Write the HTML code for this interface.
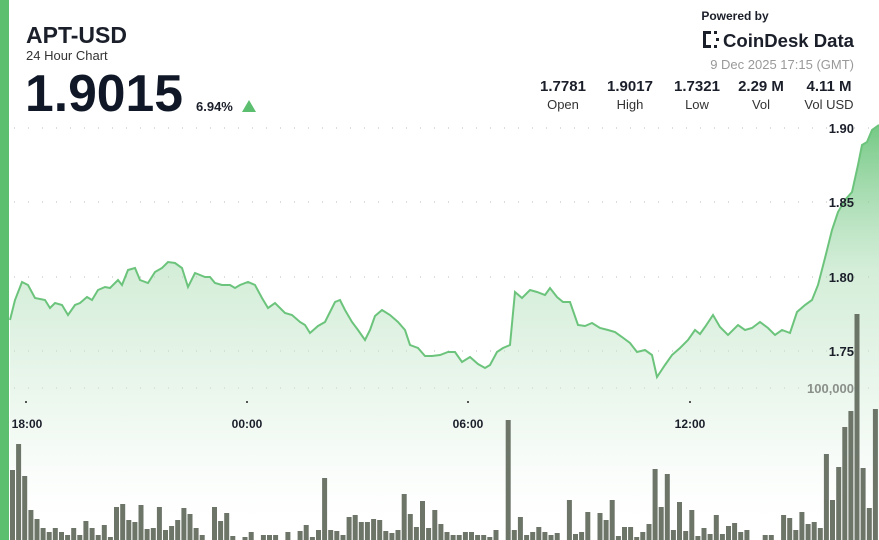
<!DOCTYPE html>
<html><head><meta charset="utf-8"><style>
body{margin:0;width:879px;height:540px;overflow:hidden;background:#fff;font-family:"Liberation Sans",sans-serif}
svg{position:absolute;left:0;top:0}
</style></head><body>
<svg width="879" height="540" viewBox="0 0 879 540" xmlns="http://www.w3.org/2000/svg">
<defs>
<linearGradient id="g" x1="0" y1="0" x2="0" y2="1">
<stop offset="0" stop-color="#5cbf6f" stop-opacity="0.85"/>
<stop offset="0.35" stop-color="#a9dcb2" stop-opacity="0.5"/>
<stop offset="0.75" stop-color="#e3f3e6" stop-opacity="0.45"/>
<stop offset="1" stop-color="#ffffff" stop-opacity="0"/>
</linearGradient>
</defs>
<rect x="0" y="0" width="9" height="540" fill="#5cbf6f"/>
<g id="grid" stroke="#bbb" stroke-width="1" stroke-dasharray="1 13"></g>
<path id="area" fill="url(#g)"/>
<path id="line" fill="none" stroke="#6cc47c" stroke-width="2"/>
<g id="bars" fill="#5d6659" fill-opacity="0.9"></g>
<g font-family="Liberation Sans,sans-serif" font-weight="bold" font-size="13" fill="#1b1f2a" text-anchor="end">
<text x="854" y="133">1.90</text><text x="854" y="207">1.85</text><text x="854" y="282">1.80</text><text x="854" y="356">1.75</text>
<text x="854" y="393" fill="#8a8f8a">100,000</text>
</g>
<g fill="#555"><rect x="25" y="401" width="2" height="2"/><rect x="246" y="401" width="2" height="2"/><rect x="467" y="401" width="2" height="2"/><rect x="689" y="401" width="2" height="2"/></g>
<g font-family="Liberation Sans,sans-serif" font-weight="bold" font-size="12" fill="#1b1f2a" text-anchor="middle">
<text x="27" y="428">18:00</text><text x="247" y="428">00:00</text><text x="468" y="428">06:00</text><text x="690" y="428">12:00</text>
</g>
<text x="26" y="43" font-weight="bold" font-size="23" fill="#1b1f2a">APT-USD</text>
<text x="26" y="60" font-size="13" fill="#333">24 Hour Chart</text>
<text x="25" y="111" font-weight="bold" font-size="52" fill="#101828" textLength="158" lengthAdjust="spacingAndGlyphs">1.9015</text>
<text x="196" y="111" font-weight="bold" font-size="13" fill="#1b1f2a">6.94%</text>
<polygon points="242,112 256,112 249,100" fill="#5cbf6f"/>
<text x="735" y="20" font-weight="bold" font-size="12" fill="#1b1f2a" text-anchor="middle">Powered by</text>
<g fill="#1b1f2a"><rect x="703" y="31" width="3" height="17"/><rect x="703" y="31" width="8" height="3"/><rect x="703" y="45" width="8" height="3"/><rect x="714" y="31" width="3" height="3"/><rect x="716" y="38" width="3" height="3"/><rect x="714" y="45" width="3" height="3"/></g>
<text x="723" y="47" font-weight="bold" font-size="18" fill="#1b1f2a" textLength="131" lengthAdjust="spacingAndGlyphs">CoinDesk Data</text>
<text x="854" y="69" font-size="13" fill="#999" text-anchor="end">9 Dec 2025 17:15 (GMT)</text>
<g font-family="Liberation Sans,sans-serif" text-anchor="middle" fill="#1b1f2a">
<text x="563" y="91" font-weight="bold" font-size="15">1.7781</text><text x="563" y="109" font-size="13" fill="#333">Open</text>
<text x="630" y="91" font-weight="bold" font-size="15">1.9017</text><text x="630" y="109" font-size="13" fill="#333">High</text>
<text x="697" y="91" font-weight="bold" font-size="15">1.7321</text><text x="697" y="109" font-size="13" fill="#333">Low</text>
<text x="761" y="91" font-weight="bold" font-size="15">2.29 M</text><text x="761" y="109" font-size="13" fill="#333">Vol</text>
<text x="829" y="91" font-weight="bold" font-size="15">4.11 M</text><text x="829" y="109" font-size="13" fill="#333">Vol USD</text>
</g>
</svg>
<script>
var ns="http://www.w3.org/2000/svg";
var grid=document.getElementById('grid');
[128,202,277,351,388].forEach(function(y){var l=document.createElementNS(ns,'line');l.setAttribute('x1',14);l.setAttribute('x2',879);l.setAttribute('y1',y);l.setAttribute('y2',y);grid.appendChild(l);});
var p=[[10,320],[15,300],[22,282],[28,285],[35,298],[45,300],[50,308],[55,303],[62,305],[68,315],[75,305],[80,303],[87,297],[92,300],[98,290],[105,287],[110,288],[118,280],[122,285],[128,270],[135,268],[140,280],[148,283],[155,272],[162,268],[168,262],[175,263],[182,268],[188,287],[195,273],[205,277],[210,277],[215,283],[222,285],[230,285],[235,288],[240,285],[248,282],[255,285],[262,298],[268,308],[275,303],[285,313],[292,315],[300,322],[305,325],[310,333],[318,326],[325,322],[330,312],[335,302],[340,300],[345,310],[352,322],[358,330],[365,340],[370,330],[375,316],[382,310],[390,315],[398,322],[405,330],[410,345],[418,348],[425,356],[432,356],[440,355],[448,352],[455,352],[462,362],[470,357],[478,364],[485,368],[490,365],[497,352],[503,348],[510,345],[515,292],[522,298],[530,290],[537,292],[545,295],[550,288],[557,297],[563,302],[570,302],[578,325],[585,326],[592,323],[600,328],[608,330],[615,332],[622,337],[630,343],[637,352],[645,350],[652,355],[657,377],[665,365],[672,355],[680,348],[688,340],[695,330],[700,334],[705,327],[713,315],[720,327],[728,335],[738,325],[745,330],[752,328],[760,322],[768,328],[775,335],[782,330],[790,333],[797,312],[805,305],[812,300],[818,285],[825,258],[832,230],[838,212],[845,200],[852,192],[858,165],[862,145],[867,142],[872,130],[879,125]];
var d=p.map(function(q,i){return (i?'L':'M')+q[0]+','+q[1];}).join('');
document.getElementById('line').setAttribute('d',d);
document.getElementById('area').setAttribute('d',d+'L879,540L10,540Z');
var t=[470,444,476,510,519,528,532,528,532,535,528,535,521,528,535,525,537,507,504,520,522,505,529,528,507,530,526,520,508,514,528,535,540,507,521,513,536,540,537,532,540,535,535,535,540,532,540,531,525,537,530,478,530,531,535,517,515,522,522,519,520,531,533,530,494,514,527,501,528,510,524,532,535,535,532,532,535,535,537,530,540,420,530,517,535,532,527,532,535,533,540,500,534,532,512,540,513,520,500,536,527,527,537,532,524,469,507,474,530,502,531,510,536,528,534,515,534,526,523,532,530,540,540,535,535,540,515,518,530,512,524,522,528,454,500,467,427,411,314,468,508,409];
var bars=document.getElementById('bars');var n=t.length;var w=(879-10)/n;
t.forEach(function(y,i){var r=document.createElementNS(ns,'rect');r.setAttribute('x',(10+i*w).toFixed(1));r.setAttribute('y',y);r.setAttribute('width',(w-1.1).toFixed(1));r.setAttribute('height',540-y);bars.appendChild(r);});
</script>
</body></html>
